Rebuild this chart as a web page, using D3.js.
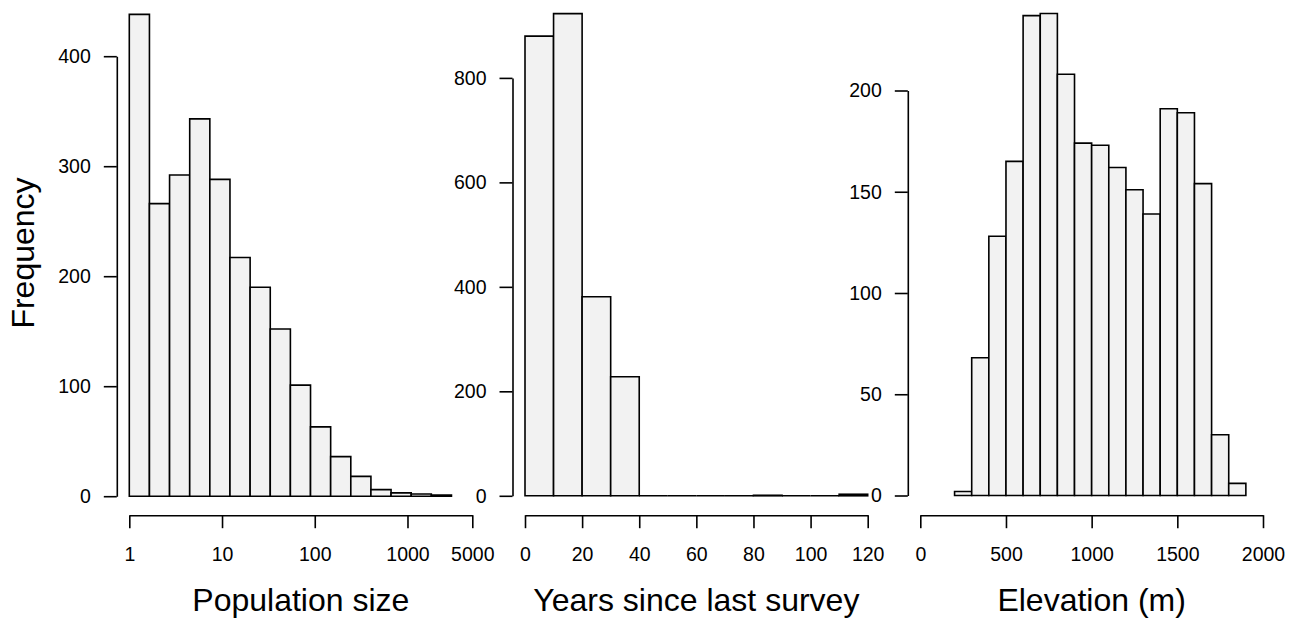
<!DOCTYPE html>
<html>
<head>
<meta charset="utf-8">
<script src="https://cdn.jsdelivr.net/npm/d3@7"></script>
<style>
  body { margin: 0; background: #fff; }
  text { font-family: "Liberation Sans", Arial, sans-serif; fill: #000; }
</style>
</head>
<body>
<script>
//histogram bin edges and counts
var popBreaks = [1, 1.649, 2.718, 4.482, 7.389, 12.18, 20.09, 33.12, 54.60, 90.02, 148.4, 244.7, 403.4, 665.1, 1096.6, 1808.0, 2981.0];
var popCounts = [438, 266, 292, 343, 288, 217, 190, 152, 101, 63, 36, 18, 6, 3, 2, 1];
var popXTicks = [1, 10, 100, 1000, 5000];
var popYTicks = [0, 100, 200, 300, 400];

var yearsBreaks = [0, 10, 20, 30, 40, 50, 60, 70, 80, 90, 100, 110, 120];
var yearsCounts = [880, 923, 381, 228, 0, 0, 0, 0, 1, 0, 0, 3];
var yearsXTicks = [0, 20, 40, 60, 80, 100, 120];
var yearsYTicks = [0, 200, 400, 600, 800];

var elevBreaks = [200, 300, 400, 500, 600, 700, 800, 900, 1000, 1100, 1200, 1300, 1400, 1500, 1600, 1700, 1800, 1900];
var elevCounts = [2, 68, 128, 165, 237, 238, 208, 174, 173, 162, 151, 139, 191, 189, 154, 30, 6];
var elevXTicks = [0, 500, 1000, 1500, 2000];
var elevYTicks = [0, 50, 100, 150, 200];

var width = 1305, height = 620;

var svg = d3.select("body").append("svg")
    .attr("width", width)
    .attr("height", height);

var panels = [
    {breaks: popBreaks, counts: popCounts, xticks: popXTicks, yticks: popYTicks,
     x: d3.scaleLog().domain([1, 5000]).range([129.3, 472.3]),
     y: d3.scaleLinear().domain([0, 400]).range([496.2, 56.2]),
     xlab: "Population size"},
    {breaks: yearsBreaks, counts: yearsCounts, xticks: yearsXTicks, yticks: yearsYTicks,
     x: d3.scaleLinear().domain([0, 120]).range([525, 867.7]),
     y: d3.scaleLinear().domain([0, 800]).range([495.8, 77.9]),
     xlab: "Years since last survey"},
    {breaks: elevBreaks, counts: elevCounts, xticks: elevXTicks, yticks: elevYTicks,
     x: d3.scaleLinear().domain([0, 2000]).range([920.3, 1263]),
     y: d3.scaleLinear().domain([0, 200]).range([495.5, 90.5]),
     xlab: "Elevation (m)"}
];

var axisY = 515.2, yAxisOffset = 12.5;

panels.forEach(function(p){
    var g = svg.append("g");

    //bars (drawn as paths so empty bins still show as a line)
    g.selectAll(".bar")
        .data(p.counts)
        .enter()
        .append("path")
        .attr("class", "bar")
        .attr("d", function(d, i){
            var x0 = p.x(p.breaks[i]), x1 = p.x(p.breaks[i + 1]);
            var path = d3.path();
            path.rect(x0, p.y(d), x1 - x0, p.y(0) - p.y(d));
            return path.toString();
        })
        .attr("fill", "#f2f2f2")
        .attr("stroke", "#000")
        .attr("stroke-width", 1.6);

    //x axis
    var xa = g.append("g")
        .attr("transform", "translate(0," + axisY + ")")
        .call(d3.axisBottom(p.x).tickValues(p.xticks).tickFormat(d3.format("d"))
            .tickSize(13).tickSizeOuter(0).tickPadding(19));

    //y axis
    var ya = g.append("g")
        .attr("transform", "translate(" + (p.x.range()[0] - yAxisOffset) + ",0)")
        .call(d3.axisLeft(p.y).tickValues(p.yticks).tickFormat(d3.format("d"))
            .tickSize(13).tickSizeOuter(0).tickPadding(13));

    [xa, ya].forEach(function(a){
        a.selectAll("path, line").attr("stroke", "#000").attr("stroke-width", 1.6);
        a.selectAll("text")
            .style("font-family", '"Liberation Sans", Arial, sans-serif')
            .style("font-size", "19.5px")
            .attr("fill", "#000");
    });

    //x label
    var r = p.x.range();
    g.append("text")
        .attr("x", (r[0] + r[1]) / 2)
        .attr("y", 611)
        .attr("text-anchor", "middle")
        .style("font-size", "32px")
        .text(p.xlab);
});

svg.append("text")
    .attr("transform", "translate(34,253) rotate(-90)")
    .attr("text-anchor", "middle")
    .style("font-size", "32px")
    .text("Frequency");
</script>
</body>
</html>
